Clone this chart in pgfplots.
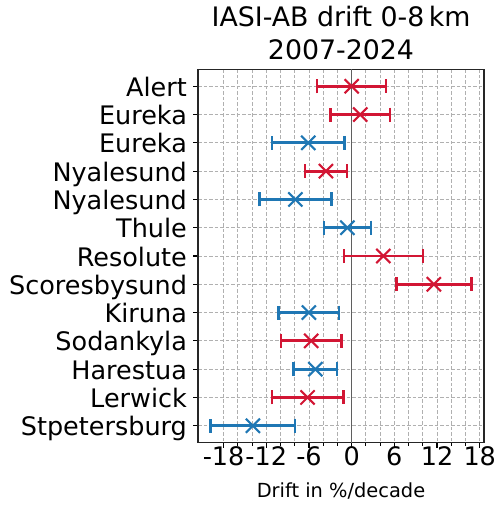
\documentclass[border=0pt]{standalone}
\usepackage{fontspec}
\setmainfont{DejaVu Sans}
\usepackage{pgfplots}
\usepackage{pgfplotstable}
\pgfplotsset{compat=1.18}

\definecolor{driftred}{RGB}{210,22,52}
\definecolor{driftblue}{RGB}{31,119,180}
\definecolor{gridgray}{RGB}{176,176,176}
\definecolor{zerogray}{RGB}{95,95,95}

% row index (0 = top), trend, uncertainty (%/decade)
\pgfplotstableread{
row trend err
0   0.00  4.85
1   1.20  4.15
3  -3.62  2.95
6   4.45  5.55
7  11.55  5.27
9  -5.69  4.25
11 -6.20  5.03
}\reddata

\pgfplotstableread{
row trend err
2  -6.10  5.10
4  -7.91  5.07
5  -0.60  3.30
8  -6.02  4.26
10 -5.10  3.07
12 -13.88 5.95
}\bluedata

\pgfplotsset{
  drift series/.style={only marks, mark=x, mark size=10pt,
    mark options={line width=2.1pt},
    error bars/.cd, x dir=both, x explicit,
    error bar style={line width=2.9pt},
    error mark options={rotate=90, mark size=7pt, line width=2.4pt}},
}

\begin{document}
\begin{tikzpicture}
\useasboundingbox (0pt,0pt) rectangle (500pt,508pt);
\begin{axis}[
  at={(198pt,65.3pt)}, anchor=south west,
  scale only axis, width=286pt, height=373.4pt,
  xmin=-21.6, xmax=18.6,
  ymin=-0.6, ymax=12.6, y dir=reverse,
  axis line style={line width=1.1pt, black!85},
  xtick={-18,-12,-6,0,6,12,18},
  xticklabels={-18,-12,-6,0,6,12,18},
  minor xtick={-16,-14,-10,-8,-4,-2,2,4,8,10,14,16},
  ytick={0,...,12},
  yticklabels={Alert,Eureka,Eureka,Nyalesund,Nyalesund,Thule,Resolute,Scoresbysund,Kiruna,Sodankyla,Harestua,Lerwick,Stpetersburg},
  xtick pos=bottom, ytick pos=left,
  tick align=outside,
  major tick length=4.9pt, minor tick length=2.8pt,
  every tick/.style={black, line width=1.1pt},
  minor tick style={line width=0.85pt},
  grid=both,
  major grid style={gridgray, line width=0.9pt, dash pattern=on 3.5pt off 2pt},
  minor grid style={gridgray, line width=0.9pt, dash pattern=on 3.5pt off 2pt},
  ymajorgrids=true, yminorgrids=false,
  ticklabel style={font=\fontsize{25.5}{30}\selectfont},
  xticklabel style={anchor=base, inner sep=0pt, yshift=-18pt},
  yticklabel style={anchor=base east, inner sep=0pt, xshift=-6pt, yshift=-10pt},
  title={IASI-AB drift 0-8\,km\\2007-2024},
  title style={font=\fontsize{26.8}{33.4}\selectfont, align=center, at={(0.5,1)}, anchor=south, inner sep=0pt, yshift=3pt},
  xlabel={Drift in \%/decade},
  xlabel style={font=\fontsize{19.4}{23}\selectfont, at={(axis description cs:0.5,0)}, anchor=base, inner sep=0pt, yshift=-54.3pt},
  clip=false,
]
% zero reference line
\addplot[zerogray, line width=1.4pt, forget plot] coordinates {(0,-0.6) (0,12.6)};

\addplot[driftred, drift series] table[x=trend, y=row, x error=err] {\reddata};
\addplot[driftblue, drift series] table[x=trend, y=row, x error=err] {\bluedata};
\end{axis}
\end{tikzpicture}
\end{document}
